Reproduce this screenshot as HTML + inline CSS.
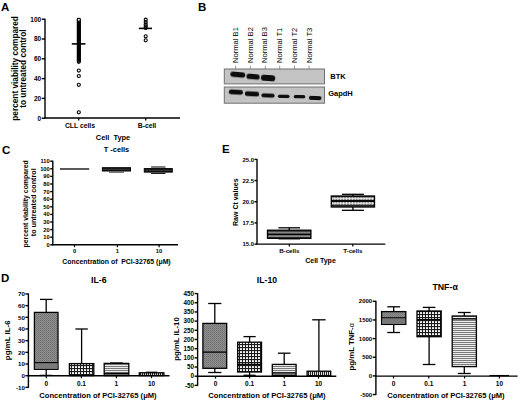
<!DOCTYPE html>
<html><head><meta charset="utf-8"><style>
html,body{margin:0;padding:0;background:#fff;}
svg{display:block;font-family:"Liberation Sans",sans-serif;}
</style></head><body>
<svg width="520" height="402" viewBox="0 0 520 402">
<defs>
<filter id="bl" x="-20%" y="-50%" width="140%" height="200%"><feGaussianBlur stdDeviation="0.45"/></filter>
<pattern id="pg" width="2" height="2" patternUnits="userSpaceOnUse"><rect width="2" height="2" fill="#8e8e8e"/><rect width="1" height="1" fill="#707070"/><rect x="1" y="1" width="1" height="1" fill="#7c7c7c"/></pattern>
<pattern id="pk" width="3" height="3" patternUnits="userSpaceOnUse"><rect width="3" height="3" fill="#1a1a1a"/><rect x="0" y="0" width="2" height="2" rx="0.6" fill="#fafafa"/></pattern>
<pattern id="ph" width="4" height="2" patternUnits="userSpaceOnUse"><rect width="4" height="2" fill="#ececec"/><rect width="4" height="1" fill="#7a7a7a"/></pattern>
<pattern id="pv" width="2" height="4" patternUnits="userSpaceOnUse"><rect width="2" height="4" fill="#ddd"/><rect width="1" height="4" fill="#222"/></pattern>
<pattern id="pe1" width="4" height="3.5" patternUnits="userSpaceOnUse" y="230.9"><rect width="4" height="3.5" fill="#3a3a3a"/><rect y="1.3" width="4" height="1.0" fill="#c4c4c4"/></pattern>
<pattern id="pe2" width="2.9" height="4.7" patternUnits="userSpaceOnUse" y="196.3"><rect width="2.9" height="4.7" fill="#2a2a2a"/><circle cx="1.45" cy="2.3" r="1.35" fill="#f2f2f2"/></pattern>
</defs>
<text x="1.00" y="11.00" font-size="11.5" text-anchor="start" font-weight="bold" fill="#000">A</text>
<line x1="45.00" y1="18.70" x2="45.00" y2="118.70" stroke="#000" stroke-width="1.4"/>
<line x1="41.70" y1="118.20" x2="45.00" y2="118.20" stroke="#000" stroke-width="1.4"/>
<text x="41.20" y="120.54" font-size="6.5" text-anchor="end" font-weight="bold" fill="#000">0</text>
<line x1="41.70" y1="98.40" x2="45.00" y2="98.40" stroke="#000" stroke-width="1.4"/>
<text x="41.20" y="100.74" font-size="6.5" text-anchor="end" font-weight="bold" fill="#000">20</text>
<line x1="41.70" y1="78.60" x2="45.00" y2="78.60" stroke="#000" stroke-width="1.4"/>
<text x="41.20" y="80.94" font-size="6.5" text-anchor="end" font-weight="bold" fill="#000">40</text>
<line x1="41.70" y1="58.80" x2="45.00" y2="58.80" stroke="#000" stroke-width="1.4"/>
<text x="41.20" y="61.14" font-size="6.5" text-anchor="end" font-weight="bold" fill="#000">60</text>
<line x1="41.70" y1="39.00" x2="45.00" y2="39.00" stroke="#000" stroke-width="1.4"/>
<text x="41.20" y="41.34" font-size="6.5" text-anchor="end" font-weight="bold" fill="#000">80</text>
<line x1="41.70" y1="19.20" x2="45.00" y2="19.20" stroke="#000" stroke-width="1.4"/>
<text x="41.20" y="21.54" font-size="6.5" text-anchor="end" font-weight="bold" fill="#000">100</text>
<line x1="44.40" y1="118.00" x2="180.00" y2="118.00" stroke="#000" stroke-width="1.4"/>
<line x1="78.70" y1="118.00" x2="78.70" y2="120.50" stroke="#000" stroke-width="1.3"/>
<line x1="145.70" y1="118.00" x2="145.70" y2="120.50" stroke="#000" stroke-width="1.3"/>
<text x="80.00" y="127.60" font-size="6.8" text-anchor="middle" font-weight="bold" fill="#000">CLL cells</text>
<text x="147.00" y="127.60" font-size="6.8" text-anchor="middle" font-weight="bold" fill="#000">B-cell</text>
<text x="113.00" y="140.20" font-size="7.4" text-anchor="middle" font-weight="bold" fill="#000" xml:space="preserve">Cell  Type</text>
<text x="18.50" y="68.40" font-size="8.25" text-anchor="middle" font-weight="bold" fill="#000" transform="rotate(-90 18.50 68.40)">percent viability compared</text>
<text x="26.50" y="68.60" font-size="8.3" text-anchor="middle" font-weight="bold" fill="#000" transform="rotate(-90 26.50 68.60)">to untreated control</text>
<circle cx="78.8" cy="19.80" r="1.55" fill="none" stroke="#000" stroke-width="1.1"/>
<circle cx="78.8" cy="20.80" r="1.55" fill="none" stroke="#000" stroke-width="1.1"/>
<circle cx="78.8" cy="21.80" r="1.55" fill="none" stroke="#000" stroke-width="1.1"/>
<circle cx="78.8" cy="22.80" r="1.55" fill="none" stroke="#000" stroke-width="1.1"/>
<circle cx="78.8" cy="23.80" r="1.55" fill="none" stroke="#000" stroke-width="1.1"/>
<circle cx="78.8" cy="24.80" r="1.55" fill="none" stroke="#000" stroke-width="1.1"/>
<circle cx="78.8" cy="25.80" r="1.55" fill="none" stroke="#000" stroke-width="1.1"/>
<circle cx="78.8" cy="26.80" r="1.55" fill="none" stroke="#000" stroke-width="1.1"/>
<circle cx="78.8" cy="27.80" r="1.55" fill="none" stroke="#000" stroke-width="1.1"/>
<circle cx="78.8" cy="28.80" r="1.55" fill="none" stroke="#000" stroke-width="1.1"/>
<circle cx="78.8" cy="29.80" r="1.55" fill="none" stroke="#000" stroke-width="1.1"/>
<circle cx="78.8" cy="30.80" r="1.55" fill="none" stroke="#000" stroke-width="1.1"/>
<circle cx="78.8" cy="31.80" r="1.55" fill="none" stroke="#000" stroke-width="1.1"/>
<circle cx="78.8" cy="32.80" r="1.55" fill="none" stroke="#000" stroke-width="1.1"/>
<circle cx="78.8" cy="33.80" r="1.55" fill="none" stroke="#000" stroke-width="1.1"/>
<circle cx="78.8" cy="34.80" r="1.55" fill="none" stroke="#000" stroke-width="1.1"/>
<circle cx="78.8" cy="35.80" r="1.55" fill="none" stroke="#000" stroke-width="1.1"/>
<circle cx="78.8" cy="36.80" r="1.55" fill="none" stroke="#000" stroke-width="1.1"/>
<circle cx="78.8" cy="37.80" r="1.55" fill="none" stroke="#000" stroke-width="1.1"/>
<circle cx="78.8" cy="38.80" r="1.55" fill="none" stroke="#000" stroke-width="1.1"/>
<circle cx="78.8" cy="39.80" r="1.55" fill="none" stroke="#000" stroke-width="1.1"/>
<circle cx="78.8" cy="40.80" r="1.55" fill="none" stroke="#000" stroke-width="1.1"/>
<circle cx="78.8" cy="41.80" r="1.55" fill="none" stroke="#000" stroke-width="1.1"/>
<circle cx="78.8" cy="42.80" r="1.55" fill="none" stroke="#000" stroke-width="1.1"/>
<circle cx="78.8" cy="43.80" r="1.55" fill="none" stroke="#000" stroke-width="1.1"/>
<circle cx="78.8" cy="44.80" r="1.55" fill="none" stroke="#000" stroke-width="1.1"/>
<circle cx="78.8" cy="45.80" r="1.55" fill="none" stroke="#000" stroke-width="1.1"/>
<circle cx="78.8" cy="46.80" r="1.55" fill="none" stroke="#000" stroke-width="1.1"/>
<circle cx="78.8" cy="47.80" r="1.55" fill="none" stroke="#000" stroke-width="1.1"/>
<circle cx="78.8" cy="48.80" r="1.55" fill="none" stroke="#000" stroke-width="1.1"/>
<circle cx="78.8" cy="49.80" r="1.55" fill="none" stroke="#000" stroke-width="1.1"/>
<circle cx="78.8" cy="50.80" r="1.55" fill="none" stroke="#000" stroke-width="1.1"/>
<circle cx="78.8" cy="51.80" r="1.55" fill="none" stroke="#000" stroke-width="1.1"/>
<circle cx="78.8" cy="52.80" r="1.55" fill="none" stroke="#000" stroke-width="1.1"/>
<circle cx="78.8" cy="53.80" r="1.55" fill="none" stroke="#000" stroke-width="1.1"/>
<circle cx="78.8" cy="54.80" r="1.55" fill="none" stroke="#000" stroke-width="1.1"/>
<circle cx="78.8" cy="55.80" r="1.55" fill="none" stroke="#000" stroke-width="1.1"/>
<circle cx="78.8" cy="56.80" r="1.55" fill="none" stroke="#000" stroke-width="1.1"/>
<circle cx="78.8" cy="57.80" r="1.55" fill="none" stroke="#000" stroke-width="1.1"/>
<circle cx="78.8" cy="58.80" r="1.55" fill="none" stroke="#000" stroke-width="1.1"/>
<circle cx="78.8" cy="59.80" r="1.55" fill="none" stroke="#000" stroke-width="1.1"/>
<circle cx="78.8" cy="60.80" r="1.55" fill="none" stroke="#000" stroke-width="1.1"/>
<circle cx="78.8" cy="61.80" r="1.55" fill="none" stroke="#000" stroke-width="1.1"/>
<circle cx="78.8" cy="70.60" r="1.55" fill="none" stroke="#000" stroke-width="1.1"/>
<circle cx="78.8" cy="76.00" r="1.55" fill="none" stroke="#000" stroke-width="1.1"/>
<circle cx="78.8" cy="84.80" r="1.55" fill="none" stroke="#000" stroke-width="1.1"/>
<circle cx="78.8" cy="112.30" r="1.55" fill="none" stroke="#000" stroke-width="1.1"/>
<line x1="71.80" y1="43.90" x2="85.50" y2="43.90" stroke="#000" stroke-width="1.6"/>
<circle cx="78.8" cy="19.8" r="1.55" fill="#fff" stroke="#000" stroke-width="1.1"/>
<circle cx="145.7" cy="19.70" r="1.55" fill="none" stroke="#000" stroke-width="1.1"/>
<circle cx="145.7" cy="22.20" r="1.55" fill="none" stroke="#000" stroke-width="1.1"/>
<circle cx="145.7" cy="24.40" r="1.55" fill="none" stroke="#000" stroke-width="1.1"/>
<circle cx="145.7" cy="26.40" r="1.55" fill="none" stroke="#000" stroke-width="1.1"/>
<circle cx="145.7" cy="28.00" r="1.55" fill="none" stroke="#000" stroke-width="1.1"/>
<circle cx="145.7" cy="36.30" r="1.55" fill="none" stroke="#000" stroke-width="1.1"/>
<circle cx="145.7" cy="40.30" r="1.55" fill="none" stroke="#000" stroke-width="1.1"/>
<line x1="138.90" y1="28.40" x2="152.00" y2="28.40" stroke="#000" stroke-width="1.6"/>
<text x="198.00" y="11.00" font-size="11.5" text-anchor="start" font-weight="bold" fill="#000">B</text>
<text x="237.70" y="63.00" font-size="7.6" text-anchor="start" font-weight="normal" fill="#000" transform="rotate(-90 237.70 63.00)">Normal B1</text>
<text x="252.50" y="63.00" font-size="7.6" text-anchor="start" font-weight="normal" fill="#000" transform="rotate(-90 252.50 63.00)">Normal B2</text>
<text x="267.40" y="63.00" font-size="7.6" text-anchor="start" font-weight="normal" fill="#000" transform="rotate(-90 267.40 63.00)">Normal B3</text>
<text x="282.10" y="63.00" font-size="7.6" text-anchor="start" font-weight="normal" fill="#000" transform="rotate(-90 282.10 63.00)">Normal T1</text>
<text x="296.90" y="63.00" font-size="7.6" text-anchor="start" font-weight="normal" fill="#000" transform="rotate(-90 296.90 63.00)">Normal T2</text>
<text x="311.50" y="63.00" font-size="7.6" text-anchor="start" font-weight="normal" fill="#000" transform="rotate(-90 311.50 63.00)">Normal T3</text>
<line x1="235.60" y1="65.80" x2="235.60" y2="69.00" stroke="#555" stroke-width="0.6"/>
<line x1="250.30" y1="65.80" x2="250.30" y2="69.00" stroke="#555" stroke-width="0.6"/>
<line x1="265.30" y1="65.80" x2="265.30" y2="69.00" stroke="#555" stroke-width="0.6"/>
<line x1="279.70" y1="65.80" x2="279.70" y2="69.00" stroke="#555" stroke-width="0.6"/>
<line x1="294.50" y1="65.80" x2="294.50" y2="69.00" stroke="#555" stroke-width="0.6"/>
<line x1="309.00" y1="65.80" x2="309.00" y2="69.00" stroke="#555" stroke-width="0.6"/>
<rect x="224.30" y="69.00" width="100.20" height="14.90" fill="#c3c3c3" stroke="#707070" stroke-width="1.0"/>
<rect x="224.30" y="87.00" width="100.20" height="16.20" fill="#c3c3c3" stroke="#707070" stroke-width="1.0"/>
<rect x="230.30" y="71.90" width="15.00" height="5.40" rx="2.70" ry="2.70" fill="#111" filter="url(#bl)" opacity="1.0" transform="rotate(5 237.80 74.60)"/>
<rect x="246.50" y="74.10" width="13.20" height="5.20" rx="2.60" ry="2.60" fill="#111" filter="url(#bl)" opacity="1.0" transform="rotate(5 253.10 76.70)"/>
<rect x="260.90" y="74.90" width="14.40" height="6.20" rx="3.10" ry="3.10" fill="#111" filter="url(#bl)" opacity="1.0" transform="rotate(4 268.10 78.00)"/>
<rect x="228.80" y="89.80" width="14.20" height="4.80" rx="2.40" ry="2.40" fill="#111" filter="url(#bl)" opacity="1.0" transform="rotate(3 235.90 92.20)"/>
<rect x="244.80" y="91.60" width="14.40" height="4.60" rx="2.30" ry="2.30" fill="#111" filter="url(#bl)" opacity="1.0" transform="rotate(3 252.00 93.90)"/>
<rect x="261.40" y="93.40" width="13.20" height="4.20" rx="2.10" ry="2.10" fill="#111" filter="url(#bl)" opacity="1.0" transform="rotate(2 268.00 95.50)"/>
<rect x="277.90" y="94.70" width="11.70" height="3.20" rx="1.60" ry="1.60" fill="#111" filter="url(#bl)" opacity="1.0" transform="rotate(1 283.75 96.30)"/>
<rect x="293.70" y="95.10" width="11.60" height="3.20" rx="1.60" ry="1.60" fill="#111" filter="url(#bl)" opacity="1.0" transform="rotate(1 299.50 96.70)"/>
<rect x="308.80" y="95.90" width="12.70" height="4.00" rx="2.00" ry="2.00" fill="#111" filter="url(#bl)" opacity="1.0" transform="rotate(2 315.15 97.90)"/>
<text x="330.30" y="79.30" font-size="7.5" text-anchor="start" font-weight="bold" fill="#000">BTK</text>
<text x="328.20" y="96.00" font-size="7.5" text-anchor="start" font-weight="bold" fill="#000">GapdH</text>
<text x="2.00" y="154.40" font-size="11.5" text-anchor="start" font-weight="bold" fill="#000">C</text>
<text x="116.50" y="151.50" font-size="7.4" text-anchor="middle" font-weight="bold" fill="#000" xml:space="preserve">T -cells</text>
<line x1="52.80" y1="160.70" x2="52.80" y2="245.30" stroke="#000" stroke-width="1.4"/>
<line x1="50.20" y1="244.80" x2="52.80" y2="244.80" stroke="#000" stroke-width="1.4"/>
<text x="49.70" y="246.85" font-size="5.7" text-anchor="end" font-weight="bold" fill="#000">0</text>
<line x1="50.20" y1="237.20" x2="52.80" y2="237.20" stroke="#000" stroke-width="1.4"/>
<text x="49.70" y="239.25" font-size="5.7" text-anchor="end" font-weight="bold" fill="#000">10</text>
<line x1="50.20" y1="229.60" x2="52.80" y2="229.60" stroke="#000" stroke-width="1.4"/>
<text x="49.70" y="231.65" font-size="5.7" text-anchor="end" font-weight="bold" fill="#000">20</text>
<line x1="50.20" y1="222.00" x2="52.80" y2="222.00" stroke="#000" stroke-width="1.4"/>
<text x="49.70" y="224.05" font-size="5.7" text-anchor="end" font-weight="bold" fill="#000">30</text>
<line x1="50.20" y1="214.40" x2="52.80" y2="214.40" stroke="#000" stroke-width="1.4"/>
<text x="49.70" y="216.45" font-size="5.7" text-anchor="end" font-weight="bold" fill="#000">40</text>
<line x1="50.20" y1="206.80" x2="52.80" y2="206.80" stroke="#000" stroke-width="1.4"/>
<text x="49.70" y="208.85" font-size="5.7" text-anchor="end" font-weight="bold" fill="#000">50</text>
<line x1="50.20" y1="199.20" x2="52.80" y2="199.20" stroke="#000" stroke-width="1.4"/>
<text x="49.70" y="201.25" font-size="5.7" text-anchor="end" font-weight="bold" fill="#000">60</text>
<line x1="50.20" y1="191.60" x2="52.80" y2="191.60" stroke="#000" stroke-width="1.4"/>
<text x="49.70" y="193.65" font-size="5.7" text-anchor="end" font-weight="bold" fill="#000">70</text>
<line x1="50.20" y1="184.00" x2="52.80" y2="184.00" stroke="#000" stroke-width="1.4"/>
<text x="49.70" y="186.05" font-size="5.7" text-anchor="end" font-weight="bold" fill="#000">80</text>
<line x1="50.20" y1="176.40" x2="52.80" y2="176.40" stroke="#000" stroke-width="1.4"/>
<text x="49.70" y="178.45" font-size="5.7" text-anchor="end" font-weight="bold" fill="#000">90</text>
<line x1="50.20" y1="168.80" x2="52.80" y2="168.80" stroke="#000" stroke-width="1.4"/>
<text x="49.70" y="170.85" font-size="5.7" text-anchor="end" font-weight="bold" fill="#000">100</text>
<line x1="50.20" y1="161.20" x2="52.80" y2="161.20" stroke="#000" stroke-width="1.4"/>
<text x="49.70" y="163.25" font-size="5.7" text-anchor="end" font-weight="bold" fill="#000">110</text>
<line x1="52.20" y1="244.80" x2="178.00" y2="244.80" stroke="#000" stroke-width="1.4"/>
<line x1="74.50" y1="244.80" x2="74.50" y2="247.20" stroke="#000" stroke-width="1.2"/>
<text x="74.50" y="252.90" font-size="5.8" text-anchor="middle" font-weight="bold" fill="#000">0</text>
<line x1="117.40" y1="244.80" x2="117.40" y2="247.20" stroke="#000" stroke-width="1.2"/>
<text x="117.40" y="252.90" font-size="5.8" text-anchor="middle" font-weight="bold" fill="#000">1</text>
<line x1="159.10" y1="244.80" x2="159.10" y2="247.20" stroke="#000" stroke-width="1.2"/>
<text x="159.10" y="252.90" font-size="5.8" text-anchor="middle" font-weight="bold" fill="#000">10</text>
<text x="116.50" y="264.00" font-size="6.9" text-anchor="middle" font-weight="bold" fill="#000" xml:space="preserve">Concentration of  PCI-32765 (μM)</text>
<text x="27.90" y="203.90" font-size="6.9" text-anchor="middle" font-weight="bold" fill="#000" transform="rotate(-90 27.90 203.90)">percent viability compared</text>
<text x="36.00" y="202.30" font-size="7.2" text-anchor="middle" font-weight="bold" fill="#000" transform="rotate(-90 36.00 202.30)">to untreated control</text>
<line x1="60.00" y1="169.00" x2="89.20" y2="169.00" stroke="#000" stroke-width="1.3"/>
<line x1="109.00" y1="172.30" x2="124.00" y2="172.30" stroke="#444" stroke-width="0.9"/>
<rect x="102.40" y="167.70" width="28.10" height="3.30" fill="#1a1a1a" stroke="#000" stroke-width="1.0"/>
<line x1="103.00" y1="169.40" x2="130.00" y2="169.40" stroke="#555" stroke-width="0.5"/>
<line x1="151.00" y1="167.00" x2="165.50" y2="167.00" stroke="#000" stroke-width="1.0"/>
<line x1="151.00" y1="173.40" x2="165.50" y2="173.40" stroke="#000" stroke-width="1.0"/>
<rect x="144.30" y="168.60" width="28.00" height="3.50" fill="#1a1a1a" stroke="#000" stroke-width="1.0"/>
<line x1="145.00" y1="170.40" x2="171.70" y2="170.40" stroke="#555" stroke-width="0.5"/>
<text x="222.00" y="152.90" font-size="11.5" text-anchor="start" font-weight="bold" fill="#000">E</text>
<line x1="257.00" y1="158.90" x2="257.00" y2="244.60" stroke="#000" stroke-width="1.4"/>
<line x1="254.50" y1="244.10" x2="257.00" y2="244.10" stroke="#000" stroke-width="1.4"/>
<text x="254.00" y="246.22" font-size="5.9" text-anchor="end" font-weight="bold" fill="#000">15.0</text>
<line x1="254.50" y1="222.92" x2="257.00" y2="222.92" stroke="#000" stroke-width="1.4"/>
<text x="254.00" y="225.05" font-size="5.9" text-anchor="end" font-weight="bold" fill="#000">17.5</text>
<line x1="254.50" y1="201.75" x2="257.00" y2="201.75" stroke="#000" stroke-width="1.4"/>
<text x="254.00" y="203.87" font-size="5.9" text-anchor="end" font-weight="bold" fill="#000">20.0</text>
<line x1="254.50" y1="180.57" x2="257.00" y2="180.57" stroke="#000" stroke-width="1.4"/>
<text x="254.00" y="182.70" font-size="5.9" text-anchor="end" font-weight="bold" fill="#000">22.5</text>
<line x1="254.50" y1="159.40" x2="257.00" y2="159.40" stroke="#000" stroke-width="1.4"/>
<text x="254.00" y="161.52" font-size="5.9" text-anchor="end" font-weight="bold" fill="#000">25.0</text>
<line x1="256.40" y1="244.10" x2="385.30" y2="244.10" stroke="#000" stroke-width="1.4"/>
<line x1="289.30" y1="244.10" x2="289.30" y2="246.50" stroke="#000" stroke-width="1.2"/>
<text x="289.30" y="253.00" font-size="6.2" text-anchor="middle" font-weight="bold" fill="#000">B-cells</text>
<line x1="352.80" y1="244.10" x2="352.80" y2="246.50" stroke="#000" stroke-width="1.2"/>
<text x="352.80" y="253.00" font-size="6.2" text-anchor="middle" font-weight="bold" fill="#000">T-cells</text>
<text x="320.50" y="263.00" font-size="7.0" text-anchor="middle" font-weight="bold" fill="#000">Cell Type</text>
<text x="237.90" y="202.20" font-size="7.0" text-anchor="middle" font-weight="bold" fill="#000" transform="rotate(-90 237.90 202.20)">Raw Ct values</text>
<text x="1.00" y="281.80" font-size="11.5" text-anchor="start" font-weight="bold" fill="#000">D</text>
<text x="98.80" y="282.80" font-size="8.8" text-anchor="middle" font-weight="bold" fill="#000">IL-6</text>
<line x1="28.40" y1="293.44" x2="28.40" y2="387.88" stroke="#000" stroke-width="1.4"/>
<line x1="25.40" y1="387.38" x2="28.40" y2="387.38" stroke="#000" stroke-width="1.4"/>
<text x="24.90" y="389.61" font-size="6.2" text-anchor="end" font-weight="bold" fill="#000">-10</text>
<line x1="25.40" y1="375.70" x2="28.40" y2="375.70" stroke="#000" stroke-width="1.4"/>
<text x="24.90" y="377.93" font-size="6.2" text-anchor="end" font-weight="bold" fill="#000">0</text>
<line x1="25.40" y1="364.02" x2="28.40" y2="364.02" stroke="#000" stroke-width="1.4"/>
<text x="24.90" y="366.25" font-size="6.2" text-anchor="end" font-weight="bold" fill="#000">10</text>
<line x1="25.40" y1="352.34" x2="28.40" y2="352.34" stroke="#000" stroke-width="1.4"/>
<text x="24.90" y="354.57" font-size="6.2" text-anchor="end" font-weight="bold" fill="#000">20</text>
<line x1="25.40" y1="340.66" x2="28.40" y2="340.66" stroke="#000" stroke-width="1.4"/>
<text x="24.90" y="342.89" font-size="6.2" text-anchor="end" font-weight="bold" fill="#000">30</text>
<line x1="25.40" y1="328.98" x2="28.40" y2="328.98" stroke="#000" stroke-width="1.4"/>
<text x="24.90" y="331.21" font-size="6.2" text-anchor="end" font-weight="bold" fill="#000">40</text>
<line x1="25.40" y1="317.30" x2="28.40" y2="317.30" stroke="#000" stroke-width="1.4"/>
<text x="24.90" y="319.53" font-size="6.2" text-anchor="end" font-weight="bold" fill="#000">50</text>
<line x1="25.40" y1="305.62" x2="28.40" y2="305.62" stroke="#000" stroke-width="1.4"/>
<text x="24.90" y="307.85" font-size="6.2" text-anchor="end" font-weight="bold" fill="#000">60</text>
<line x1="25.40" y1="293.94" x2="28.40" y2="293.94" stroke="#000" stroke-width="1.4"/>
<text x="24.90" y="296.17" font-size="6.2" text-anchor="end" font-weight="bold" fill="#000">70</text>
<line x1="27.80" y1="375.80" x2="169.50" y2="375.80" stroke="#000" stroke-width="1.4"/>
<line x1="46.30" y1="375.80" x2="46.30" y2="378.20" stroke="#000" stroke-width="1.2"/>
<text x="46.30" y="385.60" font-size="6.5" text-anchor="middle" font-weight="bold" fill="#000">0</text>
<line x1="81.40" y1="375.80" x2="81.40" y2="378.20" stroke="#000" stroke-width="1.2"/>
<text x="81.40" y="385.60" font-size="6.5" text-anchor="middle" font-weight="bold" fill="#000">0.1</text>
<line x1="116.40" y1="375.80" x2="116.40" y2="378.20" stroke="#000" stroke-width="1.2"/>
<text x="116.40" y="385.60" font-size="6.5" text-anchor="middle" font-weight="bold" fill="#000">1</text>
<line x1="151.50" y1="375.80" x2="151.50" y2="378.20" stroke="#000" stroke-width="1.2"/>
<text x="151.50" y="385.60" font-size="6.5" text-anchor="middle" font-weight="bold" fill="#000">10</text>
<text x="98.00" y="397.60" font-size="7.6" text-anchor="middle" font-weight="bold" fill="#000">Concentration of PCI-32765 (μM)</text>
<text x="10.50" y="340.30" font-size="7.9" text-anchor="middle" font-weight="bold" fill="#000" transform="rotate(-90 10.50 340.30)">pg/mL IL-6</text>
<text x="267.00" y="282.60" font-size="8.7" text-anchor="middle" font-weight="bold" fill="#000">IL-10</text>
<line x1="197.60" y1="293.08" x2="197.60" y2="385.88" stroke="#000" stroke-width="1.4"/>
<line x1="194.60" y1="385.38" x2="197.60" y2="385.38" stroke="#000" stroke-width="1.4"/>
<text x="194.10" y="387.65" font-size="6.3" text-anchor="end" font-weight="bold" fill="#000">-50</text>
<line x1="194.60" y1="376.20" x2="197.60" y2="376.20" stroke="#000" stroke-width="1.4"/>
<text x="194.10" y="378.47" font-size="6.3" text-anchor="end" font-weight="bold" fill="#000">0</text>
<line x1="194.60" y1="367.02" x2="197.60" y2="367.02" stroke="#000" stroke-width="1.4"/>
<text x="194.10" y="369.29" font-size="6.3" text-anchor="end" font-weight="bold" fill="#000">50</text>
<line x1="194.60" y1="357.84" x2="197.60" y2="357.84" stroke="#000" stroke-width="1.4"/>
<text x="194.10" y="360.11" font-size="6.3" text-anchor="end" font-weight="bold" fill="#000">100</text>
<line x1="194.60" y1="348.66" x2="197.60" y2="348.66" stroke="#000" stroke-width="1.4"/>
<text x="194.10" y="350.93" font-size="6.3" text-anchor="end" font-weight="bold" fill="#000">150</text>
<line x1="194.60" y1="339.48" x2="197.60" y2="339.48" stroke="#000" stroke-width="1.4"/>
<text x="194.10" y="341.75" font-size="6.3" text-anchor="end" font-weight="bold" fill="#000">200</text>
<line x1="194.60" y1="330.30" x2="197.60" y2="330.30" stroke="#000" stroke-width="1.4"/>
<text x="194.10" y="332.57" font-size="6.3" text-anchor="end" font-weight="bold" fill="#000">250</text>
<line x1="194.60" y1="321.12" x2="197.60" y2="321.12" stroke="#000" stroke-width="1.4"/>
<text x="194.10" y="323.39" font-size="6.3" text-anchor="end" font-weight="bold" fill="#000">300</text>
<line x1="194.60" y1="311.94" x2="197.60" y2="311.94" stroke="#000" stroke-width="1.4"/>
<text x="194.10" y="314.21" font-size="6.3" text-anchor="end" font-weight="bold" fill="#000">350</text>
<line x1="194.60" y1="302.76" x2="197.60" y2="302.76" stroke="#000" stroke-width="1.4"/>
<text x="194.10" y="305.03" font-size="6.3" text-anchor="end" font-weight="bold" fill="#000">400</text>
<line x1="194.60" y1="293.58" x2="197.60" y2="293.58" stroke="#000" stroke-width="1.4"/>
<text x="194.10" y="295.85" font-size="6.3" text-anchor="end" font-weight="bold" fill="#000">450</text>
<line x1="197.00" y1="376.20" x2="336.30" y2="376.20" stroke="#000" stroke-width="1.4"/>
<line x1="215.50" y1="376.20" x2="215.50" y2="378.60" stroke="#000" stroke-width="1.2"/>
<text x="215.50" y="385.70" font-size="6.5" text-anchor="middle" font-weight="bold" fill="#000">0</text>
<line x1="249.60" y1="376.20" x2="249.60" y2="378.60" stroke="#000" stroke-width="1.2"/>
<text x="249.60" y="385.70" font-size="6.5" text-anchor="middle" font-weight="bold" fill="#000">0.1</text>
<line x1="284.30" y1="376.20" x2="284.30" y2="378.60" stroke="#000" stroke-width="1.2"/>
<text x="284.30" y="385.70" font-size="6.5" text-anchor="middle" font-weight="bold" fill="#000">1</text>
<line x1="318.50" y1="376.20" x2="318.50" y2="378.60" stroke="#000" stroke-width="1.2"/>
<text x="318.50" y="385.70" font-size="6.5" text-anchor="middle" font-weight="bold" fill="#000">10</text>
<text x="267.00" y="398.00" font-size="7.6" text-anchor="middle" font-weight="bold" fill="#000">Concentration of PCI-32765 (μM)</text>
<text x="179.00" y="339.00" font-size="7.8" text-anchor="middle" font-weight="bold" fill="#000" transform="rotate(-90 179.00 339.00)">pg/mL IL-10</text>
<text x="445.10" y="289.50" font-size="8.8" text-anchor="middle" font-weight="bold" fill="#000">TNF-α</text>
<line x1="375.90" y1="300.80" x2="375.90" y2="395.05" stroke="#000" stroke-width="1.4"/>
<line x1="372.70" y1="394.55" x2="375.90" y2="394.55" stroke="#000" stroke-width="1.4"/>
<text x="372.20" y="396.71" font-size="6.0" text-anchor="end" font-weight="bold" fill="#000">-500</text>
<line x1="372.70" y1="375.90" x2="375.90" y2="375.90" stroke="#000" stroke-width="1.4"/>
<text x="372.20" y="378.06" font-size="6.0" text-anchor="end" font-weight="bold" fill="#000">0</text>
<line x1="372.70" y1="357.25" x2="375.90" y2="357.25" stroke="#000" stroke-width="1.4"/>
<text x="372.20" y="359.41" font-size="6.0" text-anchor="end" font-weight="bold" fill="#000">500</text>
<line x1="372.70" y1="338.60" x2="375.90" y2="338.60" stroke="#000" stroke-width="1.4"/>
<text x="372.20" y="340.76" font-size="6.0" text-anchor="end" font-weight="bold" fill="#000">1000</text>
<line x1="372.70" y1="319.95" x2="375.90" y2="319.95" stroke="#000" stroke-width="1.4"/>
<text x="372.20" y="322.11" font-size="6.0" text-anchor="end" font-weight="bold" fill="#000">1500</text>
<line x1="372.70" y1="301.30" x2="375.90" y2="301.30" stroke="#000" stroke-width="1.4"/>
<text x="372.20" y="303.46" font-size="6.0" text-anchor="end" font-weight="bold" fill="#000">2000</text>
<line x1="375.30" y1="376.10" x2="517.60" y2="376.10" stroke="#000" stroke-width="1.4"/>
<line x1="393.50" y1="376.10" x2="393.50" y2="378.50" stroke="#000" stroke-width="1.2"/>
<text x="393.50" y="385.60" font-size="6.5" text-anchor="middle" font-weight="bold" fill="#000">0</text>
<line x1="428.80" y1="376.10" x2="428.80" y2="378.50" stroke="#000" stroke-width="1.2"/>
<text x="428.80" y="385.60" font-size="6.5" text-anchor="middle" font-weight="bold" fill="#000">0.1</text>
<line x1="464.60" y1="376.10" x2="464.60" y2="378.50" stroke="#000" stroke-width="1.2"/>
<text x="464.60" y="385.60" font-size="6.5" text-anchor="middle" font-weight="bold" fill="#000">1</text>
<line x1="499.40" y1="376.10" x2="499.40" y2="378.50" stroke="#000" stroke-width="1.2"/>
<text x="499.40" y="385.60" font-size="6.5" text-anchor="middle" font-weight="bold" fill="#000">10</text>
<text x="446.00" y="398.20" font-size="7.6" text-anchor="middle" font-weight="bold" fill="#000">Concentration of PCI-32765 (μM)</text>
<text x="353.60" y="346.80" font-size="7.8" text-anchor="middle" font-weight="bold" fill="#000" transform="rotate(-90 353.60 346.80)">pg/mL TNF-<tspan font-weight="normal" font-size="7.2">α</tspan></text>
<line x1="46.20" y1="299.40" x2="46.20" y2="312.40" stroke="#000" stroke-width="1.3"/>
<line x1="40.00" y1="299.40" x2="52.40" y2="299.40" stroke="#000" stroke-width="1.3"/>
<line x1="46.20" y1="369.30" x2="46.20" y2="375.40" stroke="#000" stroke-width="1.3"/>
<line x1="40.00" y1="375.40" x2="52.40" y2="375.40" stroke="#000" stroke-width="1.3"/>
<rect x="34.40" y="312.40" width="23.60" height="56.90" fill="url(#pg)" stroke="#000" stroke-width="1.3"/>
<rect x="34.9" y="362.9" width="22.6" height="5.9" fill="#7a7a7a"/>
<line x1="34.40" y1="362.60" x2="58.00" y2="362.60" stroke="#000" stroke-width="1.1"/>
<line x1="81.60" y1="329.00" x2="81.60" y2="363.60" stroke="#000" stroke-width="1.3"/>
<line x1="75.40" y1="329.00" x2="87.80" y2="329.00" stroke="#000" stroke-width="1.3"/>
<rect x="69.40" y="363.60" width="24.40" height="12.00" fill="url(#pk)" stroke="#000" stroke-width="1.3"/>
<line x1="116.50" y1="363.00" x2="116.50" y2="363.40" stroke="#000" stroke-width="1.3"/>
<line x1="110.10" y1="363.00" x2="122.90" y2="363.00" stroke="#000" stroke-width="1.3"/>
<rect x="104.20" y="363.40" width="24.60" height="12.20" fill="url(#ph)" stroke="#000" stroke-width="1.3"/>
<line x1="104.20" y1="373.50" x2="128.80" y2="373.50" stroke="#000" stroke-width="1.3"/>
<line x1="151.60" y1="372.30" x2="151.60" y2="372.80" stroke="#000" stroke-width="1.3"/>
<line x1="145.90" y1="372.30" x2="157.30" y2="372.30" stroke="#000" stroke-width="1.3"/>
<rect x="139.30" y="372.80" width="24.60" height="2.80" fill="url(#pv)" stroke="#000" stroke-width="1.3"/>
<line x1="214.80" y1="303.50" x2="214.80" y2="323.40" stroke="#000" stroke-width="1.3"/>
<line x1="208.20" y1="303.50" x2="221.40" y2="303.50" stroke="#000" stroke-width="1.3"/>
<line x1="214.80" y1="368.30" x2="214.80" y2="372.50" stroke="#000" stroke-width="1.3"/>
<line x1="208.20" y1="372.50" x2="221.40" y2="372.50" stroke="#000" stroke-width="1.3"/>
<rect x="202.90" y="323.40" width="23.80" height="44.90" fill="url(#pg)" stroke="#000" stroke-width="1.3"/>
<line x1="202.90" y1="352.10" x2="226.70" y2="352.10" stroke="#000" stroke-width="1.3"/>
<line x1="249.60" y1="336.60" x2="249.60" y2="342.20" stroke="#000" stroke-width="1.3"/>
<line x1="243.50" y1="336.60" x2="255.70" y2="336.60" stroke="#000" stroke-width="1.3"/>
<line x1="249.60" y1="372.00" x2="249.60" y2="375.30" stroke="#000" stroke-width="1.3"/>
<line x1="243.50" y1="375.30" x2="255.70" y2="375.30" stroke="#000" stroke-width="1.3"/>
<rect x="237.70" y="342.20" width="23.80" height="29.80" fill="url(#pk)" stroke="#000" stroke-width="1.3"/>
<line x1="237.70" y1="364.40" x2="261.50" y2="364.40" stroke="#000" stroke-width="1.3"/>
<line x1="284.20" y1="353.20" x2="284.20" y2="364.40" stroke="#000" stroke-width="1.3"/>
<line x1="277.90" y1="353.20" x2="290.50" y2="353.20" stroke="#000" stroke-width="1.3"/>
<rect x="272.30" y="364.40" width="23.80" height="11.20" fill="url(#ph)" stroke="#000" stroke-width="1.3"/>
<line x1="272.30" y1="373.00" x2="296.10" y2="373.00" stroke="#000" stroke-width="1.3"/>
<line x1="318.90" y1="319.80" x2="318.90" y2="371.20" stroke="#000" stroke-width="1.3"/>
<line x1="312.20" y1="319.80" x2="325.60" y2="319.80" stroke="#000" stroke-width="1.3"/>
<rect x="307.10" y="371.20" width="23.60" height="4.50" fill="url(#pv)" stroke="#000" stroke-width="1.3"/>
<line x1="393.70" y1="306.80" x2="393.70" y2="311.60" stroke="#000" stroke-width="1.3"/>
<line x1="387.30" y1="306.80" x2="400.10" y2="306.80" stroke="#000" stroke-width="1.3"/>
<line x1="393.70" y1="324.40" x2="393.70" y2="332.50" stroke="#000" stroke-width="1.3"/>
<line x1="387.30" y1="332.50" x2="400.10" y2="332.50" stroke="#000" stroke-width="1.3"/>
<rect x="381.60" y="311.60" width="24.20" height="12.80" fill="url(#pg)" stroke="#000" stroke-width="1.3"/>
<line x1="381.60" y1="317.90" x2="405.80" y2="317.90" stroke="#000" stroke-width="1.3"/>
<rect x="382.2" y="318.4" width="23" height="5.5" fill="#777"/>
<line x1="429.10" y1="307.40" x2="429.10" y2="311.00" stroke="#000" stroke-width="1.3"/>
<line x1="422.80" y1="307.40" x2="435.40" y2="307.40" stroke="#000" stroke-width="1.3"/>
<line x1="429.10" y1="336.70" x2="429.10" y2="364.50" stroke="#000" stroke-width="1.3"/>
<line x1="422.80" y1="364.50" x2="435.40" y2="364.50" stroke="#000" stroke-width="1.3"/>
<rect x="417.00" y="311.00" width="24.20" height="25.70" fill="url(#pk)" stroke="#000" stroke-width="1.3"/>
<line x1="417.00" y1="319.60" x2="441.20" y2="319.60" stroke="#000" stroke-width="1.3"/>
<line x1="464.30" y1="312.50" x2="464.30" y2="316.00" stroke="#000" stroke-width="1.3"/>
<line x1="457.90" y1="312.50" x2="470.70" y2="312.50" stroke="#000" stroke-width="1.3"/>
<line x1="464.30" y1="366.60" x2="464.30" y2="373.50" stroke="#000" stroke-width="1.3"/>
<line x1="457.90" y1="373.50" x2="470.70" y2="373.50" stroke="#000" stroke-width="1.3"/>
<rect x="452.20" y="316.00" width="24.20" height="50.60" fill="url(#ph)" stroke="#000" stroke-width="1.3"/>
<line x1="452.20" y1="318.90" x2="476.40" y2="318.90" stroke="#000" stroke-width="1.3"/>
<line x1="489.60" y1="375.60" x2="509.00" y2="375.60" stroke="#000" stroke-width="1.3"/>
<line x1="289.20" y1="227.80" x2="289.20" y2="230.20" stroke="#000" stroke-width="1.3"/>
<line x1="278.40" y1="227.80" x2="300.00" y2="227.80" stroke="#000" stroke-width="1.3"/>
<line x1="289.20" y1="238.30" x2="289.20" y2="238.80" stroke="#000" stroke-width="1.3"/>
<line x1="278.40" y1="238.80" x2="300.00" y2="238.80" stroke="#000" stroke-width="1.3"/>
<rect x="267.50" y="230.20" width="43.40" height="8.10" fill="url(#pe1)" stroke="#000" stroke-width="1.3"/>
<line x1="267.50" y1="234.40" x2="310.90" y2="234.40" stroke="#000" stroke-width="1.3"/>
<line x1="352.90" y1="194.30" x2="352.90" y2="196.00" stroke="#000" stroke-width="1.3"/>
<line x1="341.90" y1="194.30" x2="363.90" y2="194.30" stroke="#000" stroke-width="1.3"/>
<line x1="352.90" y1="207.00" x2="352.90" y2="210.30" stroke="#000" stroke-width="1.3"/>
<line x1="341.90" y1="210.30" x2="363.90" y2="210.30" stroke="#000" stroke-width="1.3"/>
<rect x="331.30" y="196.00" width="43.20" height="11.00" fill="url(#pe2)" stroke="#000" stroke-width="1.3"/>
<line x1="331.30" y1="201.00" x2="374.50" y2="201.00" stroke="#000" stroke-width="1.3"/>
</svg>
</body></html>
